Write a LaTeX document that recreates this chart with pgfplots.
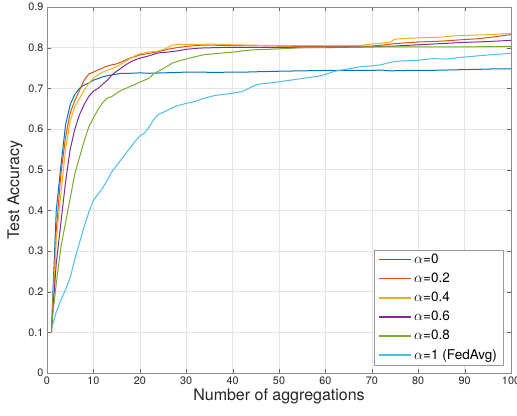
\documentclass[border=0pt]{standalone}
\usepackage{pgfplots}
\pgfplotsset{compat=1.18}
\usepackage{fontspec}
\setmainfont{TeX Gyre Heros}

\definecolor{mblue}{rgb}{0,0.447,0.741}
\definecolor{mred}{rgb}{0.85,0.325,0.098}
\definecolor{morange}{rgb}{0.929,0.694,0.125}
\definecolor{mpurple}{rgb}{0.494,0.184,0.556}
\definecolor{mgreen}{rgb}{0.466,0.674,0.188}
\definecolor{mcyan}{rgb}{0.301,0.745,0.933}
\definecolor{txt}{gray}{0.15}

\begin{document}
\begin{tikzpicture}
\begin{axis}[
    scale only axis,
    width=464pt, height=366pt,
    xmin=0, xmax=100, ymin=0, ymax=0.9,
    xtick={0,10,20,30,40,50,60,70,80,90,100},
    ytick={0,0.1,0.2,0.3,0.4,0.5,0.6,0.7,0.8,0.9},
    yticklabels={0,0.1,0.2,0.3,0.4,0.5,0.6,0.7,0.8,0.9},
    /pgf/number format/assume math mode=true,
    tick label style={font=\fontsize{10.8}{12}\selectfont, text=txt},
    label style={font=\fontsize{16}{18}\selectfont, text=txt},
    xlabel={Number of aggregations},
    ylabel={Test Accuracy},
    xlabel style={yshift=2pt},
    ylabel style={yshift=-1pt},
    grid=major,
    major grid style={color=black!10},
    axis line style={color=black!45},
    tick style={color=black!60},
    major tick length=4pt,
    tick align=inside,
    legend cell align=left,
    legend style={font=\fontsize{13.5}{15}\selectfont, draw=black!40, fill=white,
        at={(rel axis cs:0.983,0.022)}, anchor=south east, row sep=4pt,
        inner xsep=4pt, inner ysep=2pt},
    every axis plot post/.append style={line width=1pt,
        legend image code/.code={\draw[##1, line width=1.6pt] (0pt,0pt) -- (32pt,0pt);}},
]
% alpha = 0
\addplot[color=mblue] coordinates {
(1,0.12) (2,0.40) (3,0.51) (4,0.61) (5,0.66) (6,0.685) (7,0.70) (8,0.708) (9,0.713) (10,0.72)
(11,0.724) (12,0.728) (13,0.731) (14,0.733) (15,0.735) (16,0.737) (18,0.737) (20,0.738)
(22,0.737) (25,0.738) (28,0.739) (30,0.740) (33,0.740) (36,0.739) (40,0.740) (43,0.740)
(46,0.741) (50,0.742) (55,0.743) (60,0.744) (65,0.744) (70,0.744) (72,0.745) (74,0.743)
(78,0.744) (82,0.744) (86,0.745) (90,0.746) (94,0.747) (97,0.748) (100,0.748)};
\addlegendentry{$\alpha$=0}
% alpha = 0.2
\addplot[color=mred] coordinates {
(1,0.10) (2,0.35) (3,0.49) (4,0.58) (5,0.64) (6,0.67) (7,0.695) (8,0.72) (9,0.735) (10,0.74)
(11,0.745) (12,0.75) (13,0.755) (14,0.758) (15,0.76) (16,0.765) (17,0.77) (18,0.775)
(19,0.778) (20,0.782) (22,0.786) (24,0.79) (26,0.796) (28,0.80) (30,0.803) (33,0.806)
(36,0.806) (40,0.805) (45,0.805) (50,0.804) (55,0.803) (60,0.803) (65,0.803) (70,0.804)
(72,0.806) (75,0.81) (80,0.814) (85,0.816) (90,0.82) (93,0.822) (96,0.826) (100,0.832)};
\addlegendentry{$\alpha$=0.2}
% alpha = 0.4
\addplot[color=morange] coordinates {
(1,0.11) (2,0.33) (3,0.44) (4,0.55) (5,0.62) (6,0.655) (7,0.675) (8,0.695) (9,0.712) (10,0.725)
(11,0.733) (12,0.74) (13,0.745) (14,0.748) (15,0.753) (16,0.76) (17,0.767) (18,0.774)
(19,0.78) (20,0.785) (22,0.789) (24,0.792) (25,0.795) (26,0.80) (27,0.806) (28,0.808)
(30,0.808) (33,0.808) (36,0.809) (40,0.807) (45,0.806) (50,0.805) (55,0.805) (60,0.805)
(65,0.805) (68,0.806) (70,0.809) (72,0.811) (74,0.814) (75,0.821) (78,0.823) (80,0.824)
(85,0.826) (88,0.829) (90,0.830) (95,0.832) (100,0.835)};
\addlegendentry{$\alpha$=0.4}
% alpha = 0.6
\addplot[color=mpurple] coordinates {
(1,0.11) (2,0.27) (3,0.37) (4,0.47) (5,0.55) (6,0.60) (7,0.635) (8,0.66) (9,0.68) (10,0.693)
(11,0.70) (12,0.71) (13,0.72) (14,0.733) (15,0.742) (16,0.75) (17,0.758) (18,0.765)
(19,0.77) (20,0.774) (22,0.78) (24,0.787) (26,0.789) (28,0.792) (30,0.796) (33,0.799)
(36,0.80) (40,0.801) (45,0.801) (50,0.800) (55,0.800) (60,0.800) (65,0.801) (70,0.802)
(75,0.804) (80,0.807) (85,0.81) (90,0.813) (95,0.815) (100,0.818)};
\addlegendentry{$\alpha$=0.6}
% alpha = 0.8
\addplot[color=mgreen] coordinates {
(1,0.12) (2,0.22) (3,0.31) (4,0.37) (5,0.43) (6,0.49) (7,0.53) (8,0.57) (9,0.605) (10,0.627)
(11,0.648) (12,0.665) (13,0.676) (14,0.68) (15,0.688) (16,0.695) (17,0.70) (18,0.705)
(19,0.71) (20,0.715) (21,0.72) (22,0.725) (23,0.736) (24,0.742) (25,0.748) (26,0.755)
(27,0.762) (28,0.766) (30,0.772) (32,0.778) (34,0.783) (36,0.785) (38,0.787) (40,0.789)
(42,0.792) (45,0.795) (48,0.796) (50,0.797) (55,0.80) (60,0.801) (70,0.802) (80,0.802)
(90,0.802) (100,0.803)};
\addlegendentry{$\alpha$=0.8}
% alpha = 1 (FedAvg)
\addplot[color=mcyan] coordinates {
(1,0.11) (2,0.15) (3,0.18) (4,0.205) (5,0.235) (6,0.28) (7,0.32) (8,0.36) (9,0.395) (10,0.425)
(11,0.44) (12,0.455) (13,0.475) (14,0.495) (15,0.51) (16,0.525) (17,0.54) (18,0.555)
(19,0.57) (20,0.583) (21,0.59) (22,0.605) (23,0.623) (24,0.636) (25,0.641) (26,0.646)
(27,0.652) (28,0.657) (29,0.66) (30,0.663) (32,0.668) (34,0.676) (36,0.682) (38,0.685)
(40,0.688) (42,0.692) (43,0.697) (44,0.703) (45,0.708) (46,0.711) (48,0.713) (50,0.716)
(53,0.721) (56,0.726) (58,0.729) (60,0.734) (62,0.742) (64,0.746) (66,0.750) (68,0.754)
(70,0.755) (72,0.758) (74,0.764) (76,0.767) (80,0.769) (83,0.773) (86,0.772) (90,0.777)
(95,0.782) (100,0.786)};
\addlegendentry{$\alpha$=1 (FedAvg)}
\end{axis}
\pgfresetboundingbox
\path ([shift={(-47pt,-43pt)}]current axis.south west) rectangle ([shift={(6pt,7pt)}]current axis.north east);
\end{tikzpicture}
\end{document}
